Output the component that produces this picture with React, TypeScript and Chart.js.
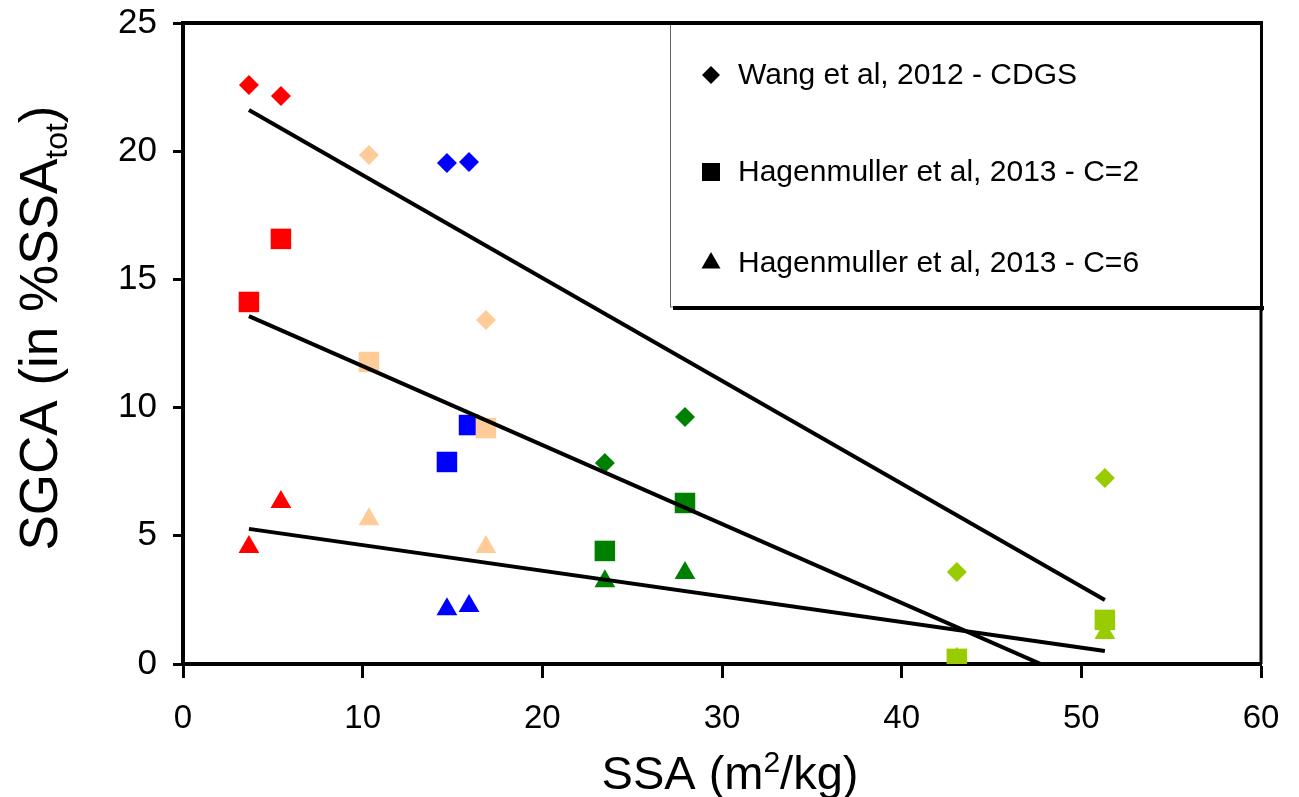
import { useEffect, useRef } from "react";
import { Chart, registerables } from "chart.js";

Chart.register(...registerables);

// SSA values (m2/kg) of the ten samples, shared by the three methods
const ssaValues = [3.67, 5.45, 10.35, 14.69, 15.92, 16.86, 23.48, 27.94, 43.07, 51.31];
// sample colours
const sampleColors = [
  "#FF0000", "#FF0000", "#FFCC99", "#0000FF", "#0000FF",
  "#FFCC99", "#008000", "#008000", "#99CC00", "#99CC00",
];
// SGCA (% SSA_tot)
const wangValues = [22.58, 22.15, 19.85, 19.54, 19.58, 13.42, 7.84, 9.63, 3.59, 7.25];
const hagenC2Values = [14.12, 16.58, 11.78, 7.88, 9.32, 9.2, 4.41, 6.28, 0.2, 1.72];
const hagenC6Values = [4.56, 6.32, 5.65, 2.14, 2.26, 4.56, 3.23, 3.55, 0.2, 1.21];

// linear trend lines (end points)
const trendX = [3.67, 51.31];
const wangTrend = [21.61, 2.5];
const hagenC2Trend = [13.57, -1.1];
const hagenC6Trend = [5.27, 0.51];

// axes
const xTicks = [0, 10, 20, 30, 40, 50, 60];
const yTicks = [0, 5, 10, 15, 20, 25];

const legendLabels = [
  "Wang et al, 2012 - CDGS",
  "Hagenmuller et al, 2013 - C=2",
  "Hagenmuller et al, 2013 - C=6",
];
const legendShapes = ["diamond", "square", "triangle"];

const toPoints = (xs: number[], ys: number[]) => ys.map((y, i) => ({ x: xs[i], y }));

const drawShape = (ctx: CanvasRenderingContext2D, shape: string, x: number, y: number) => {
  ctx.beginPath();
  if (shape === "diamond") {
    const r = 9;
    ctx.moveTo(x - r, y);
    ctx.lineTo(x, y - r);
    ctx.lineTo(x + r, y);
    ctx.lineTo(x, y + r);
  } else if (shape === "square") {
    const h = 9;
    ctx.rect(x - h, y - h, 2 * h, 2 * h);
  } else {
    const r = 11;
    ctx.moveTo(x, y - r);
    ctx.lineTo(x + r * 0.866, y + r * 0.5);
    ctx.lineTo(x - r * 0.866, y + r * 0.5);
  }
  ctx.closePath();
  ctx.fill();
};

const decorPlugin = {
  id: "decor",
  afterDraw(chart: any) {
    const { ctx, chartArea } = chart;
    const { left, right, top, bottom } = chartArea;
    ctx.save();
    // frame top and right
    ctx.strokeStyle = "#000";
    ctx.lineWidth = 4;
    ctx.beginPath();
    ctx.moveTo(left - 2, top);
    ctx.lineTo(right + 1, top);
    ctx.stroke();
    ctx.lineWidth = 3;
    ctx.beginPath();
    ctx.moveTo(right, top);
    ctx.lineTo(right, bottom);
    ctx.stroke();

    // legend box
    const bx = 670, by = top, bw = right - 670, bh = 284;
    ctx.fillStyle = "#fff";
    ctx.fillRect(bx, by, bw, bh);
    ctx.strokeStyle = "#666";
    ctx.lineWidth = 1;
    ctx.strokeRect(bx + 0.5, by, bw, bh);
    ctx.fillStyle = "#000";
    ctx.fillRect(bx + 3, by + bh - 1, bw, 4);
    ctx.fillRect(bx + bw - 1, by + 2, 3, bh + 2);
    ctx.fillRect(bx, by - 2, bw + 2, 4);

    const rowsY = [75, 172, 263];
    ctx.font = '30px "Liberation Sans", Arial, sans-serif';
    ctx.textBaseline = "middle";
    ctx.textAlign = "left";
    legendLabels.forEach((label, i) => {
      ctx.fillStyle = "#000";
      drawShape(ctx, legendShapes[i], 711, rowsY[i]);
      ctx.fillText(label, 738, rowsY[i] + 1);
    });

    // x axis title with superscript
    ctx.fillStyle = "#000";
    ctx.textBaseline = "alphabetic";
    const big = '47px "Liberation Sans", Arial, sans-serif';
    const small = '30px "Liberation Sans", Arial, sans-serif';
    const parts = [
      { t: "SSA (m", f: big, dy: 0 },
      { t: "2", f: small, dy: -17 },
      { t: "/kg)", f: big, dy: 0 },
    ];
    let total = 0;
    parts.forEach((p) => { ctx.font = p.f; total += ctx.measureText(p.t).width; });
    let cx = 730 - total / 2;
    parts.forEach((p) => {
      ctx.font = p.f;
      ctx.fillText(p.t, cx, 789 + p.dy);
      cx += ctx.measureText(p.t).width;
    });

    // y axis title with subscript
    ctx.save();
    ctx.translate(57, 328);
    ctx.rotate(-Math.PI / 2);
    const ybig = '53px "Liberation Sans", Arial, sans-serif';
    const ysmall = '32px "Liberation Sans", Arial, sans-serif';
    const yparts = [
      { t: "SGCA (in %SSA", f: ybig, dy: 0 },
      { t: "tot", f: ysmall, dy: 10 },
      { t: ")", f: ybig, dy: 0 },
    ];
    let ytotal = 0;
    yparts.forEach((p) => { ctx.font = p.f; ytotal += ctx.measureText(p.t).width; });
    let ycx = -ytotal / 2;
    yparts.forEach((p) => {
      ctx.font = p.f;
      ctx.fillText(p.t, ycx, p.dy);
      ycx += ctx.measureText(p.t).width;
    });
    ctx.restore();

    ctx.restore();
  },
};

export default function App() {
  const ref = useRef<HTMLCanvasElement | null>(null);

  useEffect(() => {
    if (!ref.current) return;
    const trendStyle = {
      showLine: true,
      borderColor: "#000",
      borderWidth: 4,
      pointRadius: 0,
      fill: false,
      clip: 0,
      order: 0,
    };
    const chart = new Chart(ref.current, {
      type: "scatter",
      data: {
        datasets: [
          { label: "trend Wang", data: toPoints(trendX, wangTrend), ...trendStyle },
          { label: "trend C2", data: toPoints(trendX, hagenC2Trend), ...trendStyle },
          { label: "trend C6", data: toPoints(trendX, hagenC6Trend), ...trendStyle },
          {
            label: legendLabels[1],
            data: toPoints(ssaValues, hagenC2Values),
            pointStyle: "rect",
            pointRadius: 14.5,
            backgroundColor: sampleColors,
            pointBackgroundColor: sampleColors,
            pointBorderWidth: 0,
            pointBorderColor: sampleColors,
            clip: 0,
            order: 1,
          },
          {
            label: legendLabels[2],
            data: toPoints(ssaValues, hagenC6Values),
            pointStyle: "triangle",
            pointRadius: 12,
            backgroundColor: sampleColors,
            pointBackgroundColor: sampleColors,
            pointBorderWidth: 0,
            pointBorderColor: sampleColors,
            clip: 0,
            order: 2,
          },
          {
            label: legendLabels[0],
            data: toPoints(ssaValues, wangValues),
            pointStyle: "rectRot",
            pointRadius: 10,
            backgroundColor: sampleColors,
            pointBackgroundColor: sampleColors,
            pointBorderWidth: 0,
            pointBorderColor: sampleColors,
            clip: 0,
            order: 3,
          },
        ] as any,
      },
      options: {
        responsive: false,
        animation: false,
        devicePixelRatio: 1,
        layout: { padding: { top: 23, right: 38, left: 0, bottom: 0 } },
        plugins: {
          legend: { display: false },
          tooltip: { enabled: false },
        },
        scales: {
          x: {
            type: "linear",
            min: xTicks[0],
            max: xTicks[xTicks.length - 1],
            z: 1,
            afterBuildTicks: (s: any) => { s.ticks = xTicks.map((v) => ({ value: v })); },
            ticks: {
              color: "#000",
              padding: 21,
              maxRotation: 0,
              autoSkip: false,
              font: { family: '"Liberation Sans", Arial, sans-serif', size: 33 },
            },
            grid: { drawOnChartArea: false, drawTicks: true, tickLength: 14, tickWidth: 3, tickColor: "#000" },
            border: { display: true, color: "#000", width: 4 },
            afterFit: (s: any) => { s.height = 133; s.paddingLeft = 0; s.paddingRight = 0; },
          },
          y: {
            type: "linear",
            min: yTicks[0],
            max: yTicks[yTicks.length - 1],
            z: 1,
            afterBuildTicks: (s: any) => { s.ticks = yTicks.map((v) => ({ value: v })); },
            ticks: {
              color: "#000",
              padding: 16,
              font: { family: '"Liberation Sans", Arial, sans-serif', size: 35 },
            },
            grid: { drawOnChartArea: false, drawTicks: true, tickLength: 10, tickWidth: 3, tickColor: "#000" },
            border: { display: true, color: "#000", width: 4 },
            afterFit: (s: any) => { s.width = 183; s.paddingTop = 0; s.paddingBottom = 0; },
          },
        },
      } as any,
      plugins: [decorPlugin],
    });
    return () => chart.destroy();
  }, []);

  return (
    <div style={{ position: "fixed", left: 0, top: 0, width: 1299, height: 797, background: "#fff" }}>
      <canvas ref={ref} width={1299} height={797} style={{ display: "block" }} />
    </div>
  );
}
